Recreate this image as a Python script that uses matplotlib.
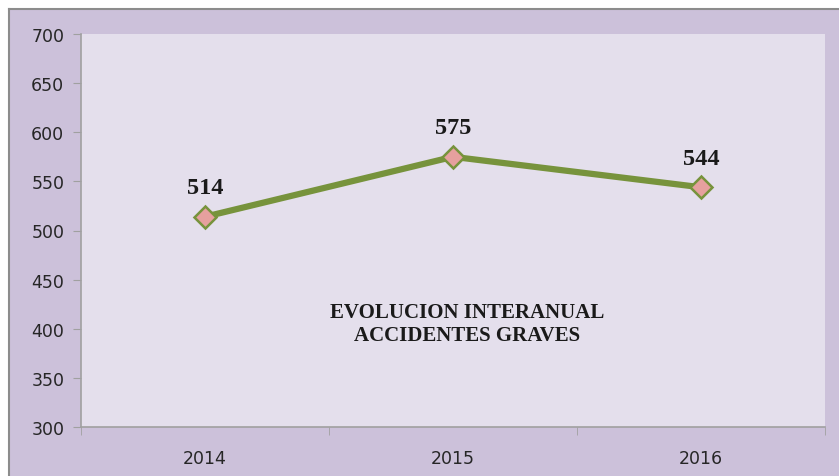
import matplotlib
matplotlib.use("Agg")
import matplotlib.pyplot as plt
from matplotlib.patches import Rectangle

years = ["2014", "2015", "2016"]
accidents = [514, 575, 544]
yticks = [300, 350, 400, 450, 500, 550, 600, 650, 700]

W, H = 839, 477
fig = plt.figure(figsize=(W / 100, H / 100), dpi=100)
fig.patch.set_facecolor("white")

# outer chart area (purple) with grey border
fig.patches.append(Rectangle((9 / W, 0), 1, 1 - 10 / H, transform=fig.transFigure,
                             facecolor="#CCC1DA", edgecolor="none", zorder=-10))
fig.lines.append(plt.Line2D([9 / W, 9 / W], [0, 1 - 10 / H], transform=fig.transFigure,
                            color="#8C8C8C", lw=1.5, zorder=-9))
fig.lines.append(plt.Line2D([9 / W, 1], [1 - 10 / H, 1 - 10 / H], transform=fig.transFigure,
                            color="#8C8C8C", lw=1.5, zorder=-9))

ax = fig.add_axes([81 / W, (H - 428) / H, (825 - 81) / W, (428 - 35) / H])
ax.set_facecolor("#E4DFEC")

x = range(len(years))
ax.plot(x, accidents, color="#77933C", lw=4.5, marker="D", markersize=11,
        markerfacecolor="#E6A09E", markeredgecolor="#77933C", markeredgewidth=1.8,
        zorder=3)

for xi, v in zip(x, accidents):
    ax.annotate(str(v), (xi, v), xytext=(0, 17), textcoords="offset points",
                ha="center", va="baseline", fontsize=17.5, fontweight="bold",
                family="Liberation Serif", color="#1a1a1a")

ax.text(1.056, 405, "EVOLUCION INTERANUAL\nACCIDENTES GRAVES", ha="center", va="center",
        fontsize=15, fontweight="bold", family="Liberation Serif", color="#1a1a1a",
        linespacing=1.2)

ax.set_xlim(-0.5, 2.5)
ax.set_ylim(300, 700)
ax.set_yticks(yticks)
ax.set_xticks(list(x))
ax.set_xticklabels(years)
ax.set_xticks([-0.5, 0.5, 1.5, 2.5], minor=True)
ax.tick_params(axis="x", which="major", length=0, pad=16, labelsize=12.5, labelcolor="#262626")
ax.tick_params(axis="x", which="minor", length=6, color="#A0A0A0", direction="out")
ax.tick_params(axis="y", length=6, color="#A0A0A0", labelsize=12.5, labelcolor="#262626", pad=6)

for s in ["top", "right"]:
    ax.spines[s].set_visible(False)
for s in ["left", "bottom"]:
    ax.spines[s].set_color("#A0A0A0")
    ax.spines[s].set_linewidth(1.2)

fig.savefig("out.png", dpi=100)
